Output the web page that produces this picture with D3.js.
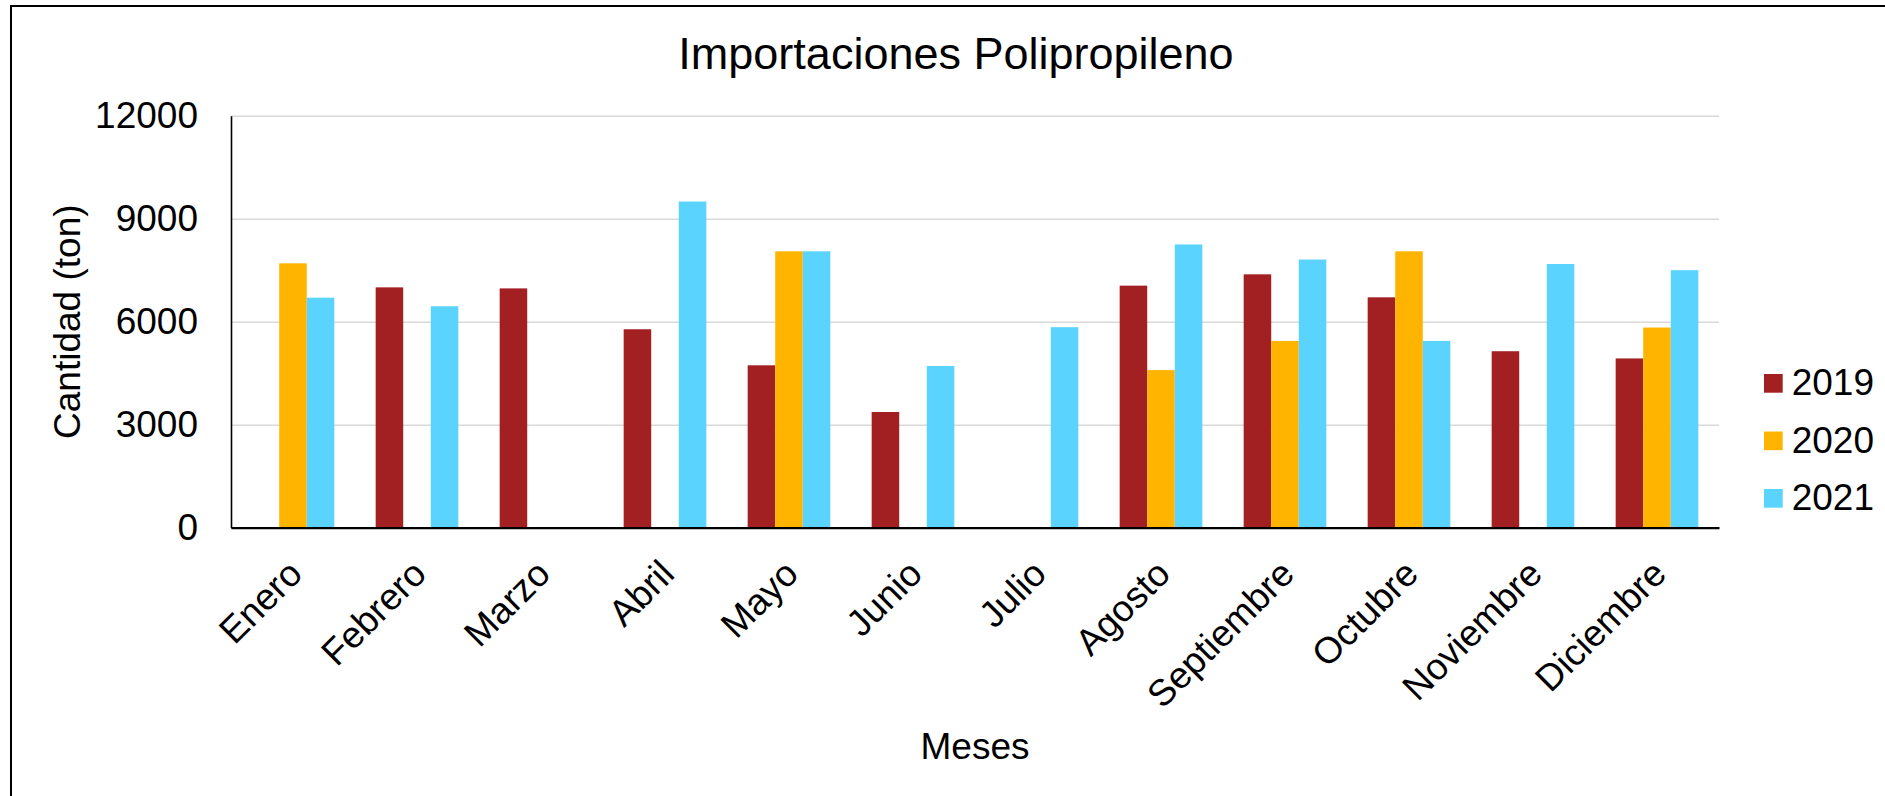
<!DOCTYPE html>
<html>
<head>
<meta charset="utf-8">
<script src="https://cdn.jsdelivr.net/npm/d3@7"></script>
<style>
  html, body { margin: 0; padding: 0; background: #ffffff; }
  svg { display: block; }
  text { font-family: "Liberation Sans", Arial, sans-serif; fill: #000; }
</style>
</head>
<body>
<svg id="chart" width="1885" height="796"></svg>
<script>
// Monthly polypropylene imports (tonnes), one array per year; null = no data
const months = ["Enero", "Febrero", "Marzo", "Abril", "Mayo", "Junio",
                "Julio", "Agosto", "Septiembre", "Octubre", "Noviembre", "Diciembre"];
const years = ["2019", "2020", "2021"];
const values2019 = [null, 7000, 6970, 5780, 4730, 3370, null, 7050, 7380, 6710, 5140, 4930];
const values2020 = [7700, null, null, null, 8050, null, null, 4590, 5440, 8050, null, 5830];
const values2021 = [6700, 6450, null, 9500, 8050, 4710, 5840, 8250, 7810, 5440, 7680, 7500];
const yTicks = [0, 3000, 6000, 9000, 12000];
const colors = ["#A21F22", "#FFB500", "#5AD3FF"];

const series = [values2019, values2020, values2021];
const rows = months.map((m, i) => ({
  month: m,
  bars: years.map((y, j) => ({ year: y, value: series[j][i] }))
}));

const svg = d3.select("#chart");
const W = 1885, H = 796;

// Chart frame
svg.append("rect")
  .attr("x", 11).attr("y", 6)
  .attr("width", W).attr("height", H)
  .attr("fill", "#fff").attr("stroke", "#000").attr("stroke-width", 2);

const plot = { left: 231, right: 1719, top: 115.7, bottom: 527.7 };

const x0 = d3.scaleBand()
  .domain(months)
  .range([plot.left, plot.right])
  .paddingInner(1 / 3)
  .paddingOuter(1 / 6);

const x1 = d3.scaleBand()
  .domain(years)
  .range([0, x0.bandwidth()]);

const y = d3.scaleLinear()
  .domain([0, 12000])
  .range([plot.bottom, plot.top]);

const color = d3.scaleOrdinal().domain(years).range(colors);

// Horizontal gridlines
const grid = svg.append("g")
  .attr("transform", `translate(${plot.left},0)`)
  .call(d3.axisLeft(y).tickValues(yTicks).tickSize(-(plot.right - plot.left)).tickFormat(""));
grid.select(".domain").remove();
grid.selectAll(".tick line").attr("stroke", "#d9d9d9").attr("stroke-width", 1.6);

// Bars
const groups = svg.append("g").selectAll("g")
  .data(rows)
  .join("g")
  .attr("transform", d => `translate(${x0(d.month)},0)`);

groups.selectAll("rect")
  .data(d => d.bars.filter(b => b.value !== null))
  .join("rect")
  .attr("x", b => x1(b.year))
  .attr("width", x1.bandwidth())
  .attr("y", b => y(b.value))
  .attr("height", b => y(0) - y(b.value))
  .attr("fill", b => color(b.year));

// Y axis
const yAxis = svg.append("g")
  .attr("transform", `translate(${plot.left},0)`)
  .call(d3.axisLeft(y).tickValues(yTicks).tickSize(0).tickPadding(33).tickFormat(d3.format("d")));
yAxis.select(".domain").attr("stroke", "#000").attr("stroke-width", 1.6);
yAxis.selectAll("text")
  .style("font-size", "37px")
  .style("font-family", "'Liberation Sans', Arial, sans-serif")
  .attr("fill", "#000");

// X axis
const xAxis = svg.append("g")
  .attr("transform", `translate(0,${plot.bottom})`)
  .call(d3.axisBottom(x0).tickSize(0).tickFormat(""));
xAxis.select(".domain").attr("stroke", "#000").attr("stroke-width", 2.2);

// Rotated month labels
svg.append("g").selectAll("text")
  .data(months)
  .join("text")
  .attr("transform", d => `translate(${x0(d) + x0.bandwidth() / 2 - 7},${plot.bottom + 30}) rotate(-45)`)
  .attr("text-anchor", "end")
  .attr("dy", "0.7em")
  .style("font-size", "37px")
  .text(d => d);

// Title
svg.append("text")
  .attr("x", 956)
  .attr("y", 69)
  .attr("text-anchor", "middle")
  .style("font-size", "45px")
  .text("Importaciones Polipropileno");

// Axis titles
svg.append("text")
  .attr("transform", `translate(80,${(plot.top + plot.bottom) / 2}) rotate(-90)`)
  .attr("text-anchor", "middle")
  .style("font-size", "37px")
  .text("Cantidad (ton)");

svg.append("text")
  .attr("x", (plot.left + plot.right) / 2)
  .attr("y", 759)
  .attr("text-anchor", "middle")
  .style("font-size", "37px")
  .text("Meses");

// Legend
const legend = svg.append("g").selectAll("g")
  .data(years)
  .join("g")
  .attr("transform", (d, i) => `translate(1764,${374 + i * 57.5})`);
legend.append("rect")
  .attr("width", 18.7).attr("height", 18.7)
  .attr("fill", d => color(d));
legend.append("text")
  .attr("x", 27.7)
  .attr("y", 21)
  .style("font-size", "37px")
  .text(d => d);
</script>
</body>
</html>
